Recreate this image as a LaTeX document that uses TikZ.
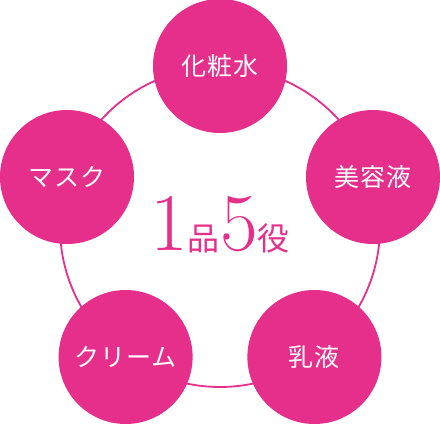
\documentclass[tikz,border=0pt]{standalone}
\usepackage{fontspec}
\newfontfamily\jpfont[LetterSpace=4]{Noto Sans CJK JP}
\usepackage{xcolor}
\usepackage{tikz}
\usetikzlibrary{positioning}

\definecolor{rosepink}{RGB}{230,46,139}

\begin{document}
\begin{tikzpicture}[
        x=1pt, y=1pt,
        item/.style={circle, fill=rosepink, minimum size=134pt, inner sep=0pt, text=white, font=\jpfont\fontsize{25}{25}\selectfont},
        ring/.style={draw=rosepink, line width=1.8pt}
    ]
    \useasboundingbox (0,0) rectangle (440,424);

    % Ring through the five items
    \coordinate (hub) at (220,197);
    \draw[ring] (hub) circle (160pt);

    % Five items
    \node[item] (toner) at (220,358) {化粧水};
    \node[item] (serum) at (373,247) {美容液};
    \node[item] (emulsion) at (314.4,67) {乳液};
    \node[item] (cream) at (125.6,67) {クリーム};
    \node[item] (mask) at (67,247) {マスク};

    % Centre title
    \node[anchor=base, text=rosepink, inner sep=0pt] (title) at (220,173)
        {{\fontsize{82}{82}\selectfont 1}{\jpfont\fontsize{32}{32}\selectfont 品}{\fontsize{82}{82}\selectfont 5}{\jpfont\fontsize{32}{32}\selectfont 役}};

\end{tikzpicture}
\end{document}
